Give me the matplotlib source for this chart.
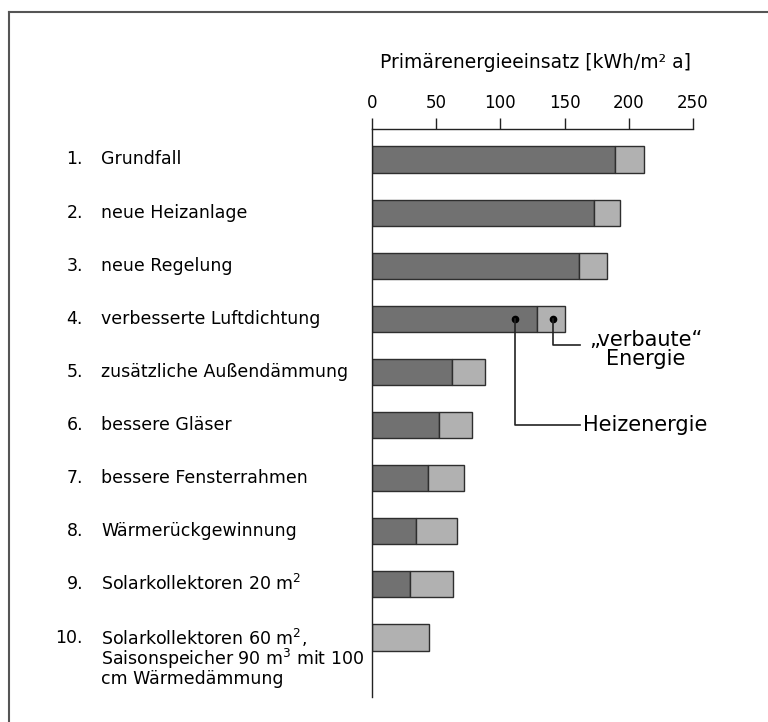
import matplotlib.pyplot as plt
from matplotlib.lines import Line2D
from matplotlib.transforms import blended_transform_factory

plt.rcParams['font.family'] = ['DejaVu Sans']

numbers = ["1.", "2.", "3.", "4.", "5.", "6.", "7.", "8.", "9.", "10."]
labels = ["Grundfall", "neue Heizanlage", "neue Regelung",
          "verbesserte Luftdichtung", "zusätzliche Außendämmung",
          "bessere Gläser", "bessere Fensterrahmen", "Wärmerückgewinnung",
          "Solarkollektoren 20 m$^2$",
          "Solarkollektoren 60 m$^2$,\nSaisonspeicher 90 m$^3$ mit 100\ncm Wärmedämmung"]
heiz = [189, 173, 161, 128.5, 62, 52, 43.5, 34, 29.5, 0]
verbaut = [23, 20, 22, 21.5, 26, 26, 28.5, 32, 33.5, 44.5]
ticks = [0, 50, 100, 150, 200, 250]

dark = '#717171'
light = '#b1b1b1'
edge = '#2e2e2e'

fig = plt.figure(figsize=(7.68, 7.22), dpi=100)
ax = fig.add_axes([372 / 768, 1 - 697 / 722, 321 / 768, (697 - 129) / 722])

y = list(range(len(labels)))
ax.barh(y, heiz, height=0.49, color=dark, edgecolor=edge, linewidth=1)
ax.barh(y, verbaut, left=heiz, height=0.49, color=light, edgecolor=edge, linewidth=1)

ax.set_xlim(0, 250)
ax.set_ylim(10.12, -0.574)
ax.spines['right'].set_visible(False)
ax.spines['bottom'].set_visible(False)
for s in ['top', 'left']:
    ax.spines[s].set_color('#222222')
    ax.spines[s].set_linewidth(1.0)
ax.xaxis.tick_top()
ax.set_xticks(ticks)
ax.tick_params(axis='x', direction='out', length=8, width=1, color='#222222',
               labelsize=12, pad=4)
ax.set_yticks([])

fig.text(536 / 768, 1 - 63 / 722, "Primärenergieeinsatz [kWh/m² a]",
         ha='center', va='center', fontsize=13.5)

tr = blended_transform_factory(fig.transFigure, ax.transData)
for i, (n, lab) in enumerate(zip(numbers, labels)):
    ax.text(83 / 768, i, n, transform=tr, ha='right', va='center', fontsize=12.5)
    if '\n' in lab:
        ax.text(101 / 768, i - 0.2, lab, transform=tr, ha='left', va='top',
                fontsize=12.5, linespacing=0.9)
    else:
        ax.text(101 / 768, i, lab, transform=tr, ha='left', va='center', fontsize=12.5)

# annotations
hx = 111.5
vx = 141
ax.plot([hx], [3], 'o', color='black', markersize=4.5)
ax.plot([vx], [3], 'o', color='black', markersize=4.5)
ax.plot([hx, hx, 162], [3, 5, 5], color='#222222', linewidth=1.2)
ax.plot([vx, vx, 162], [3, 3.49, 3.49], color='#222222', linewidth=1.2)
ax.text(164, 5, "Heizenergie", ha='left', va='center', fontsize=15)
ax.text(213, 3.57, "„verbaute“\nEnergie", ha='center', va='center',
        fontsize=15, linespacing=0.95)

# page frame (top and left edges)
fig.add_artist(Line2D([9 / 768, 1], [1 - 12 / 722, 1 - 12 / 722],
                      transform=fig.transFigure, color='#555555', linewidth=1.5))
fig.add_artist(Line2D([9 / 768, 9 / 768], [0, 1 - 12 / 722],
                      transform=fig.transFigure, color='#555555', linewidth=1.5))

fig.savefig('out.png', dpi=100)
